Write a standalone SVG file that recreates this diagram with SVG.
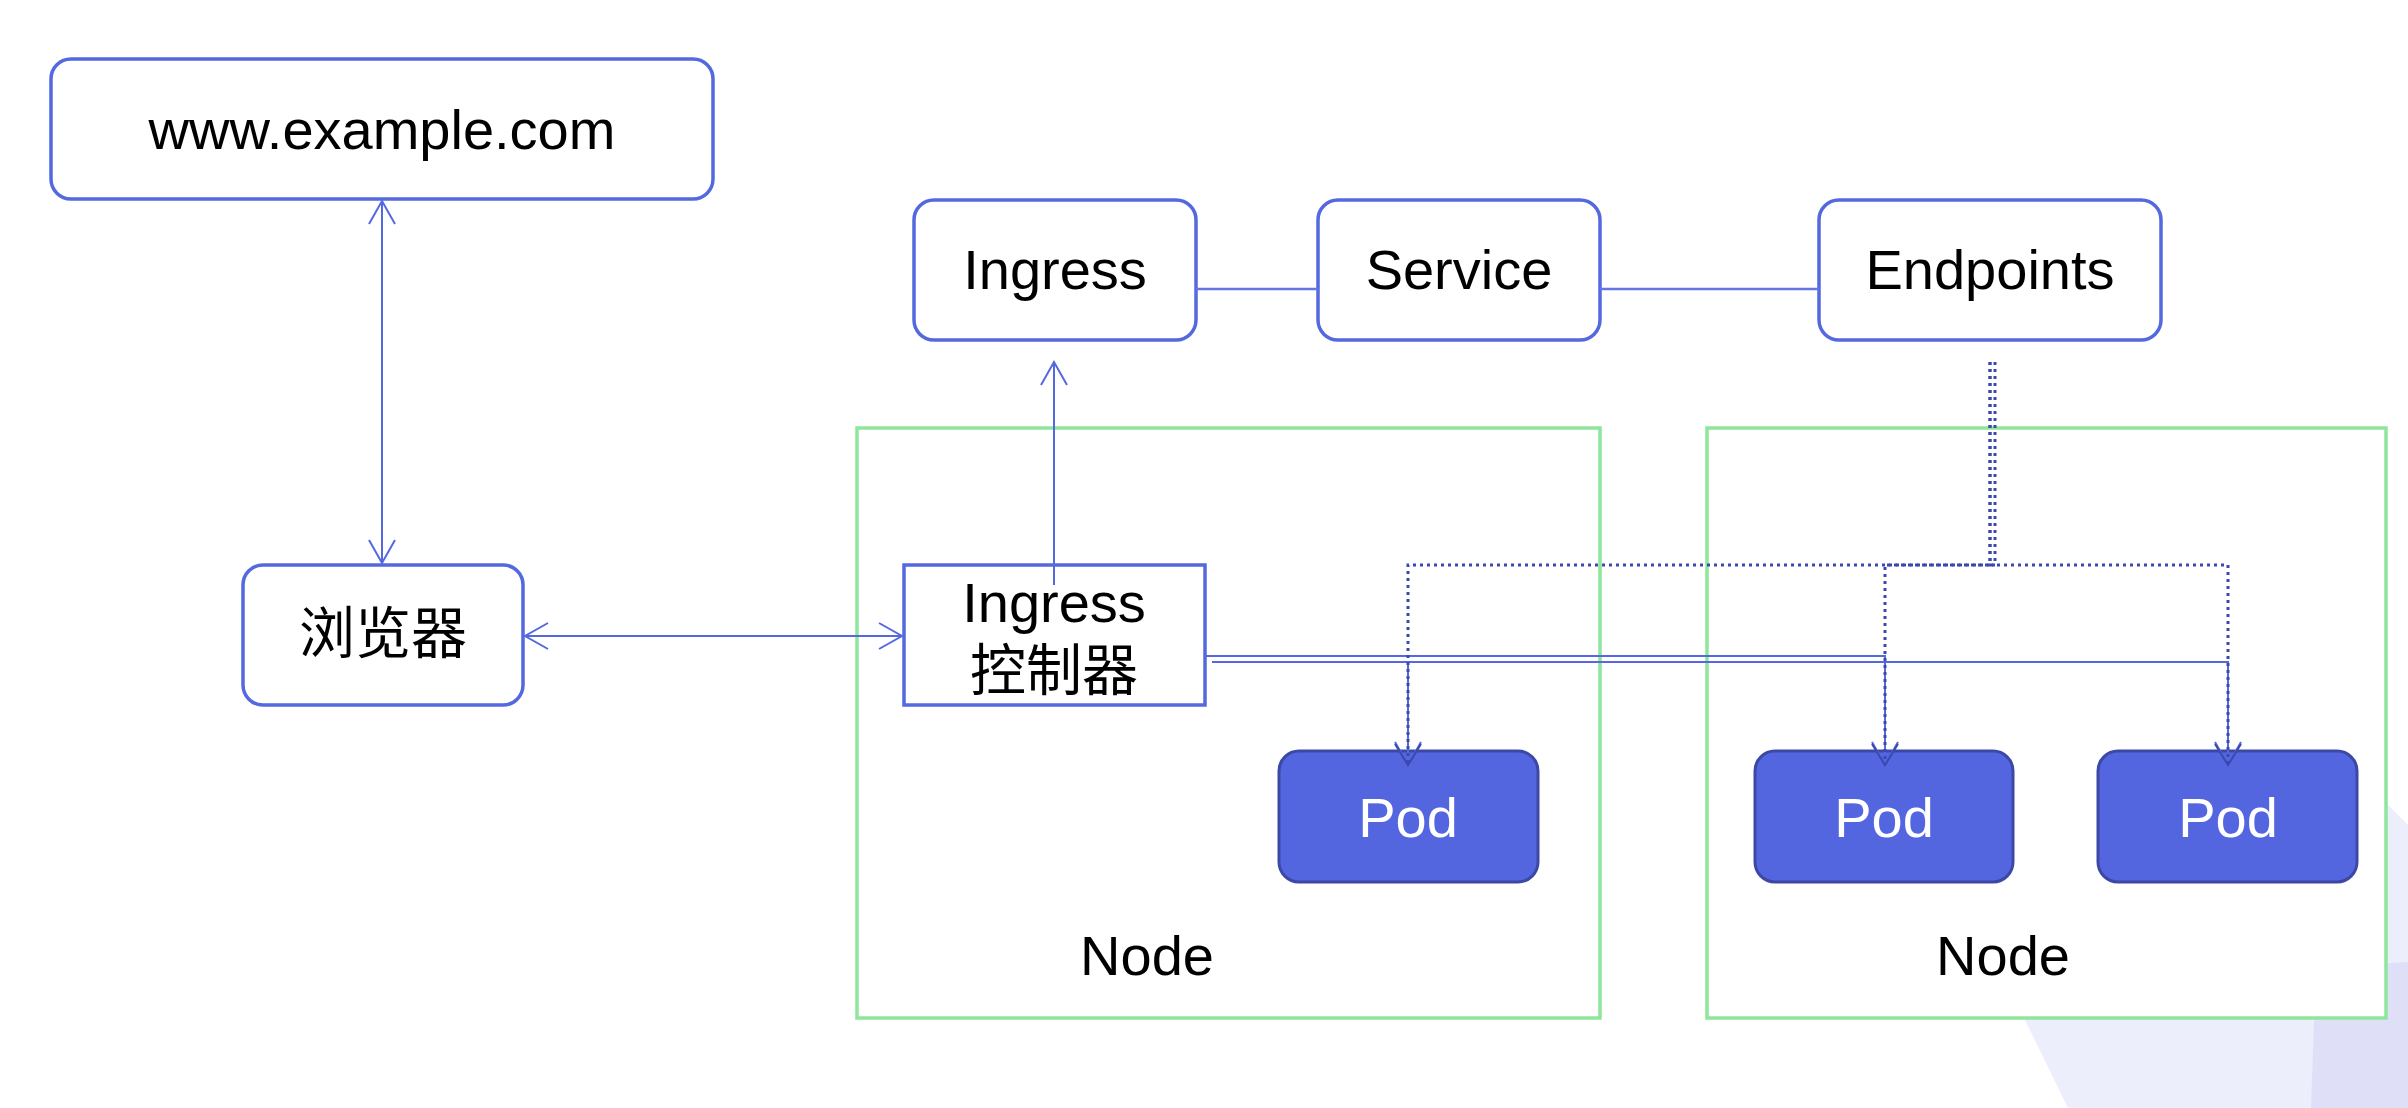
<svg xmlns="http://www.w3.org/2000/svg" width="2408" height="1108" viewBox="0 0 2408 1108">
<style>
.box{fill:#fff;stroke:#5468e0;stroke-width:3.5}
.ctl{fill:#fff;stroke:#5468e0;stroke-width:3.5}
.node{fill:#fff;stroke:#8ee69b;stroke-width:3.5}
.pod{fill:#5366e0;stroke:#3c48a6;stroke-width:3}
.t{font-family:"Liberation Sans",Arial,"Noto Sans CJK SC",sans-serif;font-size:56px;text-anchor:middle;fill:#000}
.w{fill:#fff}
.conn{fill:none;stroke:#5468e0;stroke-width:2}
.link{fill:none;stroke:#6476e6;stroke-width:2.5}
.dot{fill:none;stroke:#3b48ad;stroke-width:3;stroke-dasharray:3 4}
</style>
<defs>
<marker id="arr" markerUnits="userSpaceOnUse" markerWidth="30" markerHeight="34" viewBox="-2 -2 30 34" refX="23" refY="13" orient="auto-start-reverse">
<path d="M0,0 L23,13 L0,26" fill="none" stroke="#5468e0" stroke-width="2"/>
</marker>
<marker id="arrd" markerUnits="userSpaceOnUse" markerWidth="30" markerHeight="34" viewBox="-2 -2 30 34" refX="21" refY="13" orient="auto">
<path d="M0,0 L21,13 L0,26" fill="none" stroke="#3b48ad" stroke-width="2"/>
</marker>
</defs>
<rect width="2408" height="1108" fill="#fff"/>
<g id="background">
<polygon points="2068,1108 2025,1020 1981,930 2300,716 2408,825 2408,1108" fill="#eceefb"/>
<polygon points="2311,1108 2316,968 2408,962 2408,1108" fill="#dfe0f8"/>
</g>
<g id="node-left"><rect class="node" x="857" y="428" width="743" height="590"/><text class="t" x="1147" y="975">Node</text></g>
<g id="node-right"><rect class="node" x="1707" y="428" width="679" height="590"/><text class="t" x="2003" y="975">Node</text></g>
<g id="www"><rect class="box" x="51" y="59" width="662" height="140" rx="20"/><text class="t" x="382" y="149">www.example.com</text></g>
<g id="ingress"><rect class="box" x="914" y="200" width="282" height="140" rx="20"/><text class="t" x="1055" y="289">Ingress</text></g>
<g id="service"><rect class="box" x="1318" y="200" width="282" height="140" rx="20"/><text class="t" x="1459" y="289">Service</text></g>
<g id="endpoints"><rect class="box" x="1819" y="200" width="342" height="140" rx="20"/><text class="t" x="1990" y="289">Endpoints</text></g>
<g id="browser"><rect class="box" x="243" y="565" width="280" height="140" rx="20"/><text class="t" x="383" y="653">浏览器</text></g>
<g id="controller"><rect class="ctl" x="904" y="565" width="301" height="140"/><text class="t" x="1054" y="622">Ingress</text><text class="t" x="1054" y="690">控制器</text></g>
<g id="pod1"><rect class="pod" x="1279" y="751" width="259" height="131" rx="20"/><text class="t w" x="1408" y="837">Pod</text></g>
<g id="pod2"><rect class="pod" x="1755" y="751" width="258" height="131" rx="20"/><text class="t w" x="1884" y="837">Pod</text></g>
<g id="pod3"><rect class="pod" x="2098" y="751" width="259" height="131" rx="20"/><text class="t w" x="2228" y="837">Pod</text></g>
<g id="connectors">
<path class="link" d="M1196,289 H1318"/>
<path class="link" d="M1600,289 H1819"/>
<path class="conn" d="M382,201 V563" marker-start="url(#arr)" marker-end="url(#arr)"/>
<path class="conn" d="M525,636 H902" marker-start="url(#arr)" marker-end="url(#arr)"/>
<path class="conn" d="M1054,585 V362" marker-end="url(#arr)"/>
<path class="conn" d="M1206,656 H1885 V765" stroke-width="2.5" marker-end="url(#arr)"/>
<path class="conn" d="M1212,662 H1408 V765" marker-end="url(#arr)"/>
<path class="conn" d="M1212,662 H2228 V765" stroke="#6a7be8" marker-end="url(#arr)"/>
<path class="dot" d="M1990,362 V565 H1408 V765" marker-end="url(#arrd)"/>
<path class="dot" d="M1995,362 V565 H1885 V765" marker-end="url(#arrd)"/>
<path class="dot" d="M1990,362 V565 H2228 V765" marker-end="url(#arrd)"/>
</g>
</svg>
